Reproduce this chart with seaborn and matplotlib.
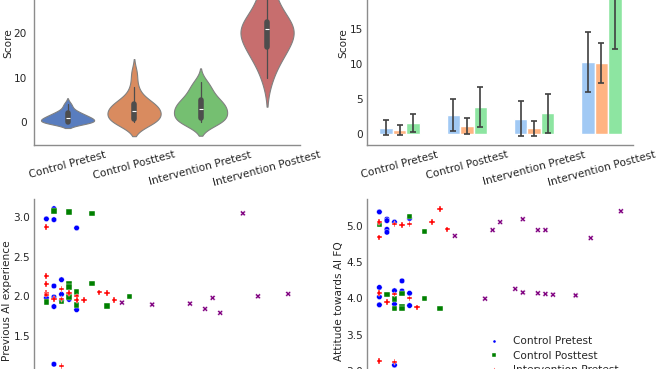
import numpy as np
import pandas as pd
import matplotlib
matplotlib.use("Agg")
import matplotlib.pyplot as plt
import seaborn as sns

# ---------------- data ----------------
groups = ["Control Pretest", "Control Posttest", "Intervention Pretest", "Intervention Posttest"]

# violin: test scores per group
score_ctrl_pre = [0, 0, 0, 0, 0, 0, 0, 1, 1, 1, 1, 1, 2, 2, 2, 3, 4]
score_ctrl_post = [0, 0, 0, 0, 0, 1, 1, 2, 2, 2, 3, 3, 3, 4, 4, 4, 5, 6, 8, 11]
score_int_pre = [0, 0, 0, 0, 1, 1, 2, 2, 3, 3, 3, 4, 4, 5, 5, 6, 7, 8, 9]
score_int_post = [10, 14, 15, 16, 18, 19, 19, 21, 21, 22, 22, 23, 26, 28, 32]

# bar chart: sub-score means and standard deviations
subscales = ["Subscore 1", "Subscore 2", "Subscore 3"]
bar_mean_1 = [0.9, 2.67, 2.19, 10.29]
bar_mean_2 = [0.6, 1.14, 0.81, 10.1]
bar_mean_3 = [1.52, 3.86, 2.95, 19.8]
bar_sd_1 = [1.1, 2.26, 2.48, 4.29]
bar_sd_2 = [0.75, 1.1, 1.1, 2.86]
bar_sd_3 = [1.27, 2.8, 2.8, 7.7]

# scatter: score vs previous AI experience
exp_ctrl_pre_x = [0, 1, 1, 4, 2, 1, 1, 0, 2, 2, 3, 1, 4, 1]
exp_ctrl_pre_y = [2.98, 3.11, 2.97, 2.865, 2.21, 2.13, 1.99, 1.98, 2.025, 1.95, 1.96, 1.87, 1.83, 1.14]
exp_ctrl_post_x = [1, 3, 6, 3, 3, 6, 4, 3, 0, 2, 4, 8, 11]
exp_ctrl_post_y = [3.08, 3.07, 3.05, 2.16, 2.12, 2.16, 2.055, 1.99, 1.93, 1.94, 1.89, 1.88, 2.0]
exp_int_pre_x = [0, 0, 0, 0, 0, 2, 3, 7, 8, 1, 4, 4, 5, 9, 2, 2]
exp_int_pre_y = [2.88, 2.257, 2.156, 2.04, 2.02, 2.09, 2.04, 2.05, 2.04, 1.966, 2.0, 1.95, 1.95, 1.95, 1.12, 1.966]
exp_int_post_x = [10, 14, 19, 21, 22, 23, 26, 28, 32]
exp_int_post_y = [1.92, 1.895, 1.907, 1.84, 1.98, 1.79, 3.05, 2.0, 2.03]

# scatter: score vs attitude towards AI
att_ctrl_pre_x = [0, 1, 1, 1, 1, 2, 4, 0, 0, 0, 2, 2, 3, 3, 4, 4, 2]
att_ctrl_pre_y = [5.19, 5.09, 5.07, 4.95, 4.91, 5.05, 5.1, 4.15, 4.02, 3.91, 4.105, 3.92, 4.24, 4.1, 4.07, 3.9, 3.08]
att_ctrl_post_x = [0, 4, 6, 1, 2, 2, 3, 3, 3, 6, 8]
att_ctrl_post_y = [5.02, 5.13, 4.92, 4.055, 3.99, 3.86, 4.065, 3.89, 3.86, 4.0, 3.86]
att_int_pre_x = [0, 0, 2, 3, 4, 7, 8, 9, 0, 1, 2, 4, 5, 0, 2]
att_int_pre_y = [5.055, 4.84, 5.02, 5.01, 5.02, 5.05, 5.23, 4.95, 4.07, 3.95, 4.055, 4.0, 3.875, 3.14, 3.12]
att_int_post_x = [10, 15, 16, 19, 21, 22, 28, 32, 14, 18, 19, 21, 22, 23, 26]
att_int_post_y = [4.86, 4.94, 5.05, 5.09, 4.94, 4.94, 4.83, 5.2, 3.995, 4.13, 4.08, 4.07, 4.06, 4.05, 4.04]

# ---------------- styling ----------------
sns.set_style("white")
plt.rcParams["font.family"] = ["DejaVu Sans"]
FS = 7.6
TXT = "#262626"
SPINE = "0.55"

W, H = 656, 369
fig = plt.figure(figsize=(W / 100, H / 100), dpi=100)


def rect(l, r, t, b):
    return [l / W, 1 - b / H, (r - l) / W, (b - t) / H]


ax1 = fig.add_axes(rect(34.3, 300.3, -59, 145))
ax2 = fig.add_axes(rect(367.3, 633, -59, 145))
ax3 = fig.add_axes(rect(34.3, 300.3, 199.3, 403))
ax4 = fig.add_axes(rect(367.3, 633, 199.3, 403))

# ---- violin ----
scores = [score_ctrl_pre, score_ctrl_post, score_int_pre, score_int_post]
df_v = pd.DataFrame({
    "group": np.concatenate([[g] * len(s) for g, s in zip(groups, scores)]),
    "score": np.concatenate(scores),
})
sns.violinplot(data=df_v, x="group", y="score", hue="group", order=groups, hue_order=groups,
               palette="muted", density_norm="width", legend=False, ax=ax1,
               linewidth=0.8, linecolor="0.5",
               inner_kws=dict(box_width=4, whis_width=0.9, color="0.3"))
ax1.set_xlim(-0.5, 3.5)
ax1.set_ylim(-5.19, 40.83)
ax1.set_yticks([0, 10, 20, 30, 40])

# ---- bars ----
means = [bar_mean_1, bar_mean_2, bar_mean_3]
sds = [bar_sd_1, bar_sd_2, bar_sd_3]
df_b = pd.DataFrame({
    "group": groups * 3,
    "subscale": np.repeat(subscales, 4),
    "mean": np.concatenate(means),
})
sns.barplot(data=df_b, x="group", y="mean", hue="subscale", order=groups, hue_order=subscales,
            palette="pastel", saturation=1, width=0.6, errorbar=None, legend=False, ax=ax2)
for cont, sd in zip(ax2.containers, sds):
    xs = [b.get_x() + b.get_width() / 2 for b in cont]
    ys = [b.get_height() for b in cont]
    ax2.errorbar(xs, ys, yerr=sd, fmt="none", ecolor="#404040", elinewidth=1.2,
                 capsize=2.2, capthick=1.2, zorder=5)
ax2.set_xlim(-0.48, 3.47)
ax2.set_ylim(-1.571, 27.57)
ax2.set_yticks([0, 5, 10, 15, 20, 25])

# ---- scatters ----
palette = {"Control Pretest": "blue", "Control Posttest": "green",
           "Intervention Pretest": "red", "Intervention Posttest": "purple"}
markers = {"Control Pretest": "o", "Control Posttest": "s",
           "Intervention Pretest": "P", "Intervention Posttest": "X"}


def make_df(xs, ys):
    return pd.DataFrame({
        "group": np.concatenate([[g] * len(x) for g, x in zip(groups, xs)]),
        "score": np.concatenate(xs),
        "value": np.concatenate(ys),
    })


df_e = make_df([exp_ctrl_pre_x, exp_ctrl_post_x, exp_int_pre_x, exp_int_post_x],
               [exp_ctrl_pre_y, exp_ctrl_post_y, exp_int_pre_y, exp_int_post_y])
df_a = make_df([att_ctrl_pre_x, att_ctrl_post_x, att_int_pre_x, att_int_post_x],
               [att_ctrl_pre_y, att_ctrl_post_y, att_int_pre_y, att_int_post_y])

for ax, df, leg in ((ax3, df_e, False), (ax4, df_a, True)):
    sns.scatterplot(data=df, x="score", y="value", hue="group", style="group", hue_order=groups,
                    style_order=groups, palette=palette, markers=markers, s=16,
                    edgecolor="white", linewidth=0.3, legend=leg, ax=ax)
    ax.set_xlim(-1.6, 33.6)
ax3.set_ylim(0.649, 3.228)
ax3.set_yticks([1.0, 1.5, 2.0, 2.5, 3.0])
ax4.set_ylim(2.558, 5.364)
ax4.set_yticks([3.0, 3.5, 4.0, 4.5, 5.0])

handles, labels = ax4.get_legend_handles_labels()
ax4.legend(handles, labels, loc="upper left", bbox_to_anchor=(474 / W, 1 - 327 / H),
           bbox_transform=fig.transFigure, frameon=False, fontsize=FS, markerscale=0.55,
           labelspacing=0.4, borderpad=0.4)

# ---- common axis styling ----
labels_y = {ax1: ("Score", -0.08), ax2: ("Score", -0.073),
            ax3: ("Previous AI experience", -0.083), ax4: ("Attitude towards AI FQ", -0.087)}
for ax in (ax1, ax2, ax3, ax4):
    for s in ("top", "right"):
        ax.spines[s].set_visible(False)
    for s in ("left", "bottom"):
        ax.spines[s].set_color(SPINE)
        ax.spines[s].set_linewidth(1.0)
    ax.tick_params(axis="y", length=0, pad=2.9, labelsize=FS, labelcolor=TXT)
    ax.tick_params(axis="x", length=2, width=0.8, color=SPINE, pad=1.5, labelsize=FS, labelcolor=TXT)
    txt, xpos = labels_y[ax]
    ax.set_ylabel(txt, fontsize=FS, color=TXT)
    ax.yaxis.set_label_coords(xpos, 0.5)

ax1.tick_params(axis="y", pad=5.3)
for ax in (ax1, ax2):
    ax.set_xlabel("")
    ax.tick_params(axis="x", rotation=15)
ax3.set_xlabel("Score")
ax4.set_xlabel("Score")

fig.savefig("out.png", dpi=100)
